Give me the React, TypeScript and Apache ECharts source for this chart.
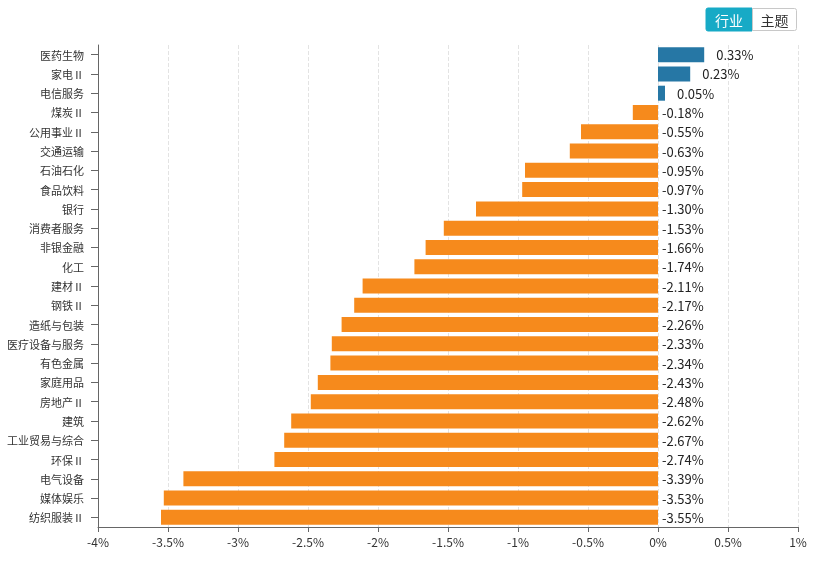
import React, { useEffect, useRef } from "react";
import * as echarts from "echarts";

const categories = [
  "医药生物", "家电Ⅱ", "电信服务", "煤炭Ⅱ", "公用事业Ⅱ", "交通运输", "石油石化", "食品饮料",
  "银行", "消费者服务", "非银金融", "化工", "建材Ⅱ", "钢铁Ⅱ", "造纸与包装", "医疗设备与服务",
  "有色金属", "家庭用品", "房地产Ⅱ", "建筑", "工业贸易与综合", "环保Ⅱ", "电气设备", "媒体娱乐", "纺织服装Ⅱ",
];
const values = [
  0.33, 0.23, 0.05, -0.18, -0.55, -0.63, -0.95, -0.97,
  -1.3, -1.53, -1.66, -1.74, -2.11, -2.17, -2.26, -2.33,
  -2.34, -2.43, -2.48, -2.62, -2.67, -2.74, -3.39, -3.53, -3.55,
];
const tabs = ["行业", "主题"];

const POS = "#2677a5";
const NEG = "#f68a1c";
const FONT = "'Noto Sans CJK SC', 'Noto Sans', sans-serif";

export default function App() {
  const ref = useRef<HTMLDivElement>(null);
  useEffect(() => {
    const chart = echarts.init(ref.current!, null, { renderer: "svg" });
    chart.setOption({
      animation: false,
      textStyle: { fontFamily: FONT },
      grid: { left: 98, right: 18, top: 45, bottom: 38 },
      xAxis: {
        type: "value",
        min: -4,
        max: 1,
        interval: 0.5,
        axisLine: { show: true, onZero: false, lineStyle: { color: "#666" } },
        axisTick: { show: true, length: 5, lineStyle: { color: "#666" } },
        axisLabel: { formatter: (v: number) => `${v}%`, color: "#333", fontSize: 12, fontFamily: FONT },
        splitLine: { show: true, lineStyle: { type: "dashed", color: "#e3e3e3" } },
      },
      yAxis: {
        type: "category",
        data: categories,
        inverse: true,
        axisLine: { show: true, onZero: false, lineStyle: { color: "#666" } },
        axisTick: { show: true, alignWithLabel: true, length: 7, lineStyle: { color: "#666" } },
        axisLabel: { color: "#333", fontSize: 11, fontFamily: FONT, margin: 14 },
        splitLine: { show: false },
      },
      graphic: [
        {
          type: "rect",
          shape: { x: 706, y: 8, width: 46, height: 23, r: [2, 0, 0, 2] },
          style: { fill: "#17aac6", stroke: "#17aac6" },
        },
        {
          type: "rect",
          shape: { x: 752.5, y: 8.5, width: 44, height: 22, r: [0, 2, 2, 0] },
          style: { fill: "#fff", stroke: "#c8c8c8", lineWidth: 1 },
        },
        {
          type: "text",
          x: 729,
          y: 19.5,
          style: { text: tabs[0], fill: "#fff", font: `14px ${FONT}`, textAlign: "center", textVerticalAlign: "middle" },
        },
        {
          type: "text",
          x: 774.5,
          y: 19.5,
          style: { text: tabs[1], fill: "#333", font: `14px ${FONT}`, textAlign: "center", textVerticalAlign: "middle" },
        },
      ],
      series: [
        {
          type: "bar",
          barWidth: 15,
          data: values.map((v) => ({
            value: v,
            itemStyle: { color: v >= 0 ? POS : NEG },
            label: { distance: v >= 0 ? 12 : 4 },
          })),
          label: {
            show: true,
            position: "right",
            color: "#222",
            fontSize: 13,
            fontFamily: FONT,
            formatter: (p: any) => `${p.value.toFixed(2)}%`,
          },
        },
      ],
    });
    return () => chart.dispose();
  }, []);
  return <div ref={ref} style={{ position: "fixed", left: 0, top: 0, width: 816, height: 565 }} />;
}
